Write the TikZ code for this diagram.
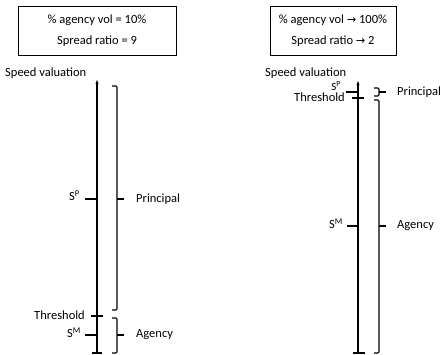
\documentclass[tikz,border=0pt]{standalone}
\usepackage{fontspec}
\setmainfont{Carlito}
\newfontfamily\arrowfont{DejaVu Sans}
\usetikzlibrary{arrows.meta}
\newcommand{\rarr}{{\arrowfont\scalebox{0.9}{→}}}
\begin{document}
\begin{tikzpicture}[x=1pt,y=-1pt,
  every node/.style={inner sep=0pt, font=\fontsize{12.5}{14}\selectfont},
  infobox/.style={draw, line width=0.8pt, align=center, font=\fontsize{12.5}{21}\selectfont},
  axisline/.style={line width=1.1pt, -{Stealth[length=4pt,width=3pt]}},
  tick/.style={line width=1.1pt},
  brace/.style={line width=1.1pt, rounded corners=1.2pt},
  lab/.style={anchor=east},
  rlab/.style={anchor=west}]
\useasboundingbox (0,0) rectangle (441,354);

% ---------------- left panel ----------------
\node[infobox, minimum width=158pt, minimum height=49pt] (boxL) at (97,30.5)
  {\% agency vol = 10\%\\Spread ratio = 9};
\node[anchor=west] (svL) at (5,73) {Speed valuation};

\coordinate (axLb) at (97,353);
\coordinate (axLt) at (97,80);
\draw[axisline] (axLb) -- (axLt);
\coordinate (botL1) at (92,353); \coordinate (botL2) at (102,353);
\draw[tick] (botL1) -- (botL2);

\coordinate (spL1) at (85,199); \coordinate (spL2) at (97,199);
\draw[tick] (spL1) -- (spL2);
\node[lab] (spLlab) at (80,196) {S\textsuperscript{P}};

\coordinate (thL1) at (91,316); \coordinate (thL2) at (103,316);
\draw[tick] (thL1) -- (thL2);
\node[lab] (thLlab) at (85,315) {Threshold};

\coordinate (smL1) at (85,335); \coordinate (smL2) at (97,335);
\draw[tick] (smL1) -- (smL2);
\node[lab] (smLlab) at (81,333) {S\textsuperscript{M}};

\coordinate (bpLt) at (112,86); \coordinate (bpLb) at (112,310);
\draw[brace] (bpLt) -- (117,86) -- (117,310) -- (bpLb);
\coordinate (bpLm) at (117,199); \coordinate (bpLm2) at (124,199);
\draw[tick] (bpLm) -- (bpLm2);
\node[rlab] (prLlab) at (136,199) {Principal};

\coordinate (baLt) at (112,318); \coordinate (baLb) at (112,353);
\draw[brace] (baLt) -- (117,318) -- (117,353) -- (baLb);
\coordinate (baLm) at (117,335); \coordinate (baLm2) at (124,335);
\draw[tick] (baLm) -- (baLm2);
\node[rlab] (agLlab) at (136,335) {Agency};

% ---------------- right panel ----------------
\node[infobox, minimum width=126pt, minimum height=49pt] (boxR) at (333,30.5)
  {\% agency vol \rarr\ 100\%\\Spread ratio \rarr\ 2};
\node[anchor=west] (svR) at (265,73) {Speed valuation};

\coordinate (axRb) at (358,353);
\coordinate (axRt) at (358,81);
\draw[axisline] (axRb) -- (axRt);
\coordinate (botR1) at (353,353); \coordinate (botR2) at (365,353);
\draw[tick] (botR1) -- (botR2);

\coordinate (spR1) at (346,92); \coordinate (spR2) at (358,92);
\draw[tick] (spR1) -- (spR2);
\node[lab, font=\fontsize{11}{12}\selectfont] (spRlab) at (341,86.5) {S\textsuperscript{P}};

\coordinate (thR1) at (352,98); \coordinate (thR2) at (364,98);
\draw[tick] (thR1) -- (thR2);
\node[lab] (thRlab) at (345,97.5) {Threshold};

\coordinate (smR1) at (347,226); \coordinate (smR2) at (358,226);
\draw[tick] (smR1) -- (smR2);
\node[lab] (smRlab) at (343,224) {S\textsuperscript{M}};

\coordinate (bpRt) at (374,88); \coordinate (bpRb) at (374,96);
\draw[brace] (bpRt) -- (379,88) -- (379,96) -- (bpRb);
\coordinate (bpRm) at (379,92); \coordinate (bpRm2) at (386,92);
\draw[tick] (bpRm) -- (bpRm2);
\node[rlab] (prRlab) at (397,92) {Principal};

\coordinate (baRt) at (374,100); \coordinate (baRb) at (374,353);
\draw[brace] (baRt) -- (379,100) -- (379,353) -- (baRb);
\coordinate (baRm) at (379,226); \coordinate (baRm2) at (386,226);
\draw[tick] (baRm) -- (baRm2);
\node[rlab] (agRlab) at (397,226) {Agency};
\end{tikzpicture}
\end{document}
